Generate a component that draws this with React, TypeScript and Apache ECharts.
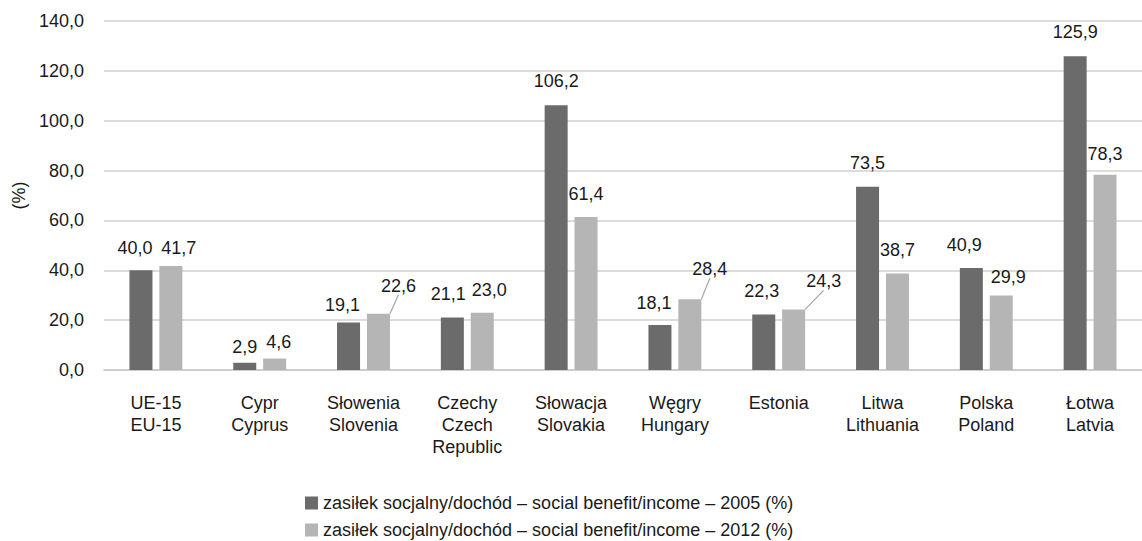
import React, { useEffect, useRef } from "react";
import * as echarts from "echarts";

const categories = [
  "UE-15\nEU-15",
  "Cypr\nCyprus",
  "Słowenia\nSlovenia",
  "Czechy\nCzech\nRepublic",
  "Słowacja\nSlovakia",
  "Węgry\nHungary",
  "Estonia",
  "Litwa\nLithuania",
  "Polska\nPoland",
  "Łotwa\nLatvia",
];

const values2005 = [40.0, 2.9, 19.1, 21.1, 106.2, 18.1, 22.3, 73.5, 40.9, 125.9];
const values2012 = [41.7, 4.6, 22.6, 23.0, 61.4, 28.4, 24.3, 38.7, 29.9, 78.3];

const seriesNames = [
  "zasiłek socjalny/dochód – social benefit/income – 2005 (%)",
  "zasiłek socjalny/dochód – social benefit/income – 2012 (%)",
];

// label nudges [dx, dy] (style only)
const nudge2005 = [[-6, 1], [0, 7], [-6, 6], [-4, 0], [0, -1], [-6, 1], [-2, 0], [0, -1], [-7, 0], [0, -1]];
const nudge2012 = [[8, 5], [4, 6], [20, -5], [7, 0], [0, 0], [20, -7], [30, -5], [0, -1], [7, 5], [0, 2]];
const guided2012 = [2, 5, 6];

const FONT = "'Liberation Sans', Arial, sans-serif";
const fmt = (v: number) => v.toFixed(1).replace(".", ",");

export default function App() {
  const ref = useRef<HTMLDivElement>(null);
  useEffect(() => {
    if (!ref.current) return;
    const chart = echarts.init(ref.current, undefined, { renderer: "svg" });
    const labelBase = {
      show: true,
      position: "top",
      distance: 14,
      fontSize: 18,
      fontFamily: FONT,
      color: "#1a1a1a",
      formatter: (p: any) => fmt(p.value),
    };
    const legendBase = {
      left: 300,
      itemWidth: 13,
      itemHeight: 13,
      icon: "rect",
      textStyle: { fontSize: 18, color: "#1a1a1a", fontFamily: FONT },
    };
    chart.setOption({
      animation: false,
      textStyle: { fontFamily: FONT },
      grid: { left: 104, right: -8, top: 21, bottom: 171 },
      legend: [
        { ...legendBase, top: 489, data: [seriesNames[0]] },
        { ...legendBase, top: 516, data: [seriesNames[1]] },
      ],
      xAxis: {
        type: "category",
        data: categories,
        axisTick: { show: false },
        axisLine: { lineStyle: { color: "#c9c9c9", width: 1.5 } },
        axisLabel: {
          fontSize: 18,
          lineHeight: 22,
          color: "#1a1a1a",
          margin: 22,
          interval: 0,
          fontFamily: FONT,
        },
      },
      yAxis: {
        type: "value",
        min: 0,
        max: 140,
        interval: 20,
        name: "(%)",
        nameLocation: "middle",
        nameGap: 75,
        nameTextStyle: { fontSize: 18, color: "#1a1a1a", fontFamily: FONT },
        axisLabel: {
          fontSize: 18,
          color: "#1a1a1a",
          margin: 20,
          fontFamily: FONT,
          formatter: (v: number) => fmt(v),
        },
        splitLine: { lineStyle: { color: "#d0d0d0", width: 1.5 } },
      },
      series: [
        {
          name: seriesNames[0],
          type: "bar",
          data: values2005,
          barWidth: 23,
          barGap: "30%",
          itemStyle: { color: "#6b6b6b" },
          label: labelBase,
          labelLayout: (p: any) => ({ dx: nudge2005[p.dataIndex][0], dy: nudge2005[p.dataIndex][1] }),
        },
        {
          name: seriesNames[1],
          type: "bar",
          data: values2012.map((v, i) =>
            guided2012.includes(i) ? { value: v, labelLine: { show: true } } : { value: v }
          ),
          barWidth: 23,
          barGap: "30%",
          itemStyle: { color: "#b5b5b5" },
          label: labelBase,
          labelLine: { show: false, lineStyle: { color: "#a6a6a6", width: 1.2 } },
          labelLayout: (p: any) => ({ dx: nudge2012[p.dataIndex][0], dy: nudge2012[p.dataIndex][1] }),
        },
      ],
    });
    return () => chart.dispose();
  }, []);
  return <div ref={ref} style={{ width: 1142, height: 541, position: "absolute", left: 0, top: 0 }} />;
}
